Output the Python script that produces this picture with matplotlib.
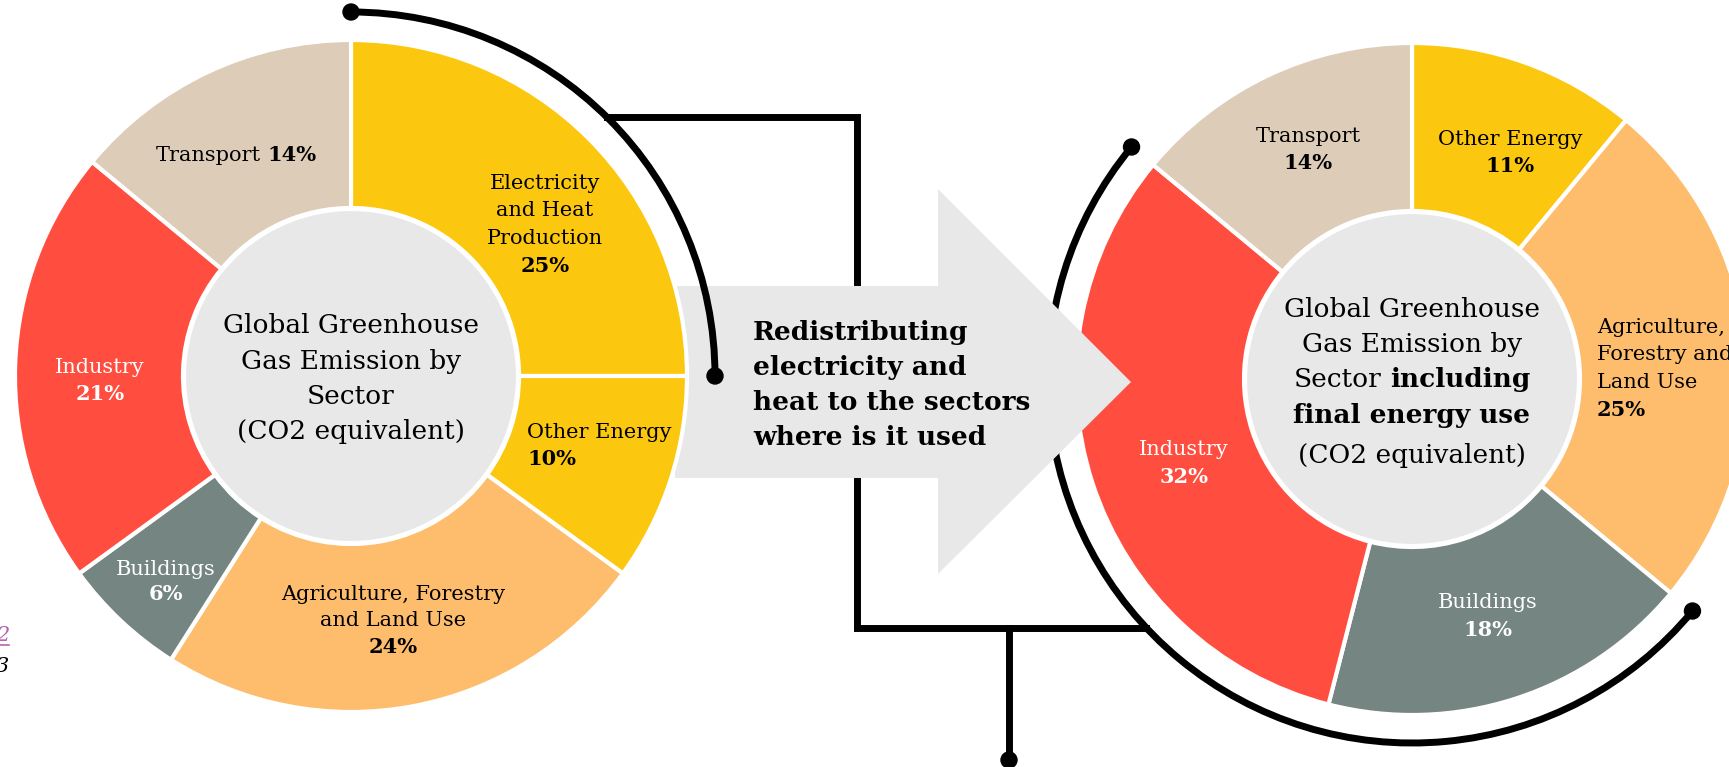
import numpy as np
import matplotlib
matplotlib.use("Agg")
import matplotlib.pyplot as plt
from matplotlib.patches import Arc, Circle, Polygon

W, H = 1729, 767

# shares in %, listed clockwise starting at 12 o'clock
left_sectors = ["Electricity and Heat Production", "Other Energy",
                "Agriculture, Forestry and Land Use", "Buildings",
                "Industry", "Transport"]
left_shares = [25, 10, 24, 6, 21, 14]

right_sectors = ["Other Energy", "Agriculture, Forestry and Land Use",
                 "Buildings", "Industry", "Transport"]
right_shares = [11, 25, 18, 32, 14]

# sectors wrapped by the black arcs
left_highlight = ["Electricity and Heat Production"]
right_highlight = ["Buildings", "Industry"]

left_title = [[("Global Greenhouse", "normal")],
              [("Gas Emission by", "normal")],
              [("Sector", "normal")],
              [("(CO2 equivalent)", "normal")]]
right_title = [[("Global Greenhouse", "normal")],
               [("Gas Emission by", "normal")],
               [("Sector", "normal"), ("including", "bold")],
               [("final energy use", "bold")],
               [("(CO2 equivalent)", "normal")]]
arrow_text = ["Redistributing", "electricity and",
              "heat to the sectors", "where is it used"]

colors = {
    "Electricity and Heat Production": "#FCC80F",
    "Other Energy": "#FCC80F",
    "Agriculture, Forestry and Land Use": "#FDBD6C",
    "Buildings": "#758581",
    "Industry": "#FF4D40",
    "Transport": "#DDCCB7",
}
white_text = {"Buildings", "Industry"}

plt.rcParams["font.family"] = "DejaVu Serif"

fig = plt.figure(figsize=(W / 100, H / 100), dpi=100)
ax = fig.add_axes([0, 0, 1, 1])
renderer = fig.canvas.get_renderer()


def Y(y):
    # work in pixel rows counted from the top
    return H - y


R_OUT, R_IN, R_ARC = 336, 168, 364
LW = 5
left_c = (351, 376)
right_c = (1412, 379)


def boundaries(shares):
    return 90 - 3.6 * np.concatenate([[0], np.cumsum(shares)])


def donut(c, sectors, shares, z):
    ax.pie(shares, colors=[colors[s] for s in sectors], startangle=90,
           counterclock=False, radius=R_OUT, center=(c[0], Y(c[1])),
           wedgeprops=dict(width=R_OUT - R_IN, edgecolor="white",
                           linewidth=3, zorder=z))
    ax.add_patch(Circle((c[0], Y(c[1])), R_IN - 1, facecolor="#E8E8E8",
                        edgecolor="white", lw=3, zorder=z + 0.1))


def wrap_arc(c, sectors, shares, picked, z):
    b = boundaries(shares)
    idx = [i for i, s in enumerate(sectors) if s in picked]
    t2 = b[min(idx)] % 360
    t1 = b[max(idx) + 1] % 360
    cx, cy = c[0], Y(c[1])
    ax.add_patch(Arc((cx, cy), 2 * R_ARC, 2 * R_ARC, theta1=t1, theta2=t2,
                     lw=LW, color="black", zorder=z))
    for t in (t1, t2):
        a = np.radians(t)
        ax.add_patch(Circle((cx + R_ARC * np.cos(a), cy + R_ARC * np.sin(a)),
                            8, color="black", zorder=z))


def text_line(x, y, parts, ha="center", size=15, color="black"):
    texts = [ax.text(0, Y(y), s, fontweight=w, ha="left", va="baseline",
                     fontsize=size, color=color, zorder=10)
             for s, w in parts]
    widths = [t.get_window_extent(renderer).width for t in texts]
    gap = 0.3 * size * 100 / 72
    total = sum(widths) + gap * (len(texts) - 1)
    pos = x - total / 2 if ha == "center" else x
    for t, w in zip(texts, widths):
        t.set_x(pos)
        pos += w + gap


# connector bracket between the two charts
y_top, y_bot, x_mid = 117, 628, 857
x0 = left_c[0] + np.sqrt(R_ARC ** 2 - (left_c[1] - y_top) ** 2)
x1 = right_c[0] - np.sqrt(R_ARC ** 2 - (y_bot - right_c[1]) ** 2)
ax.plot([x0, x_mid, x_mid, x1], [Y(y_top), Y(y_top), Y(y_bot), Y(y_bot)],
        color="black", lw=LW, solid_joinstyle="miter", zorder=2)
ax.plot([1009, 1009], [Y(y_bot), Y(760)], color="black", lw=LW, zorder=2)
ax.add_patch(Circle((1009, Y(760)), 8, color="black", zorder=2))

# right chart sits under the arrow
donut(right_c, right_sectors, right_shares, 2)
wrap_arc(right_c, right_sectors, right_shares, right_highlight, 2)

arrow = [(675, 286), (938, 286), (938, 189), (1131, 382),
         (938, 574), (938, 478), (675, 478)]
ax.add_patch(Polygon([(x, Y(y)) for x, y in arrow], closed=True,
                     facecolor="#E8E8E8", edgecolor="none", zorder=4))

donut(left_c, left_sectors, left_shares, 5)
wrap_arc(left_c, left_sectors, left_shares, left_highlight, 6)

for i, line in enumerate(arrow_text):
    text_line(753, 340 + 35 * i, [(line, "bold")], ha="left", size=19)

# sector labels: x, first baseline, line step, alignment, wrapped name
left_labels = {
    "Electricity and Heat Production":
        (545, 189, 27.5, "center", ["Electricity", "and Heat", "Production"]),
    "Other Energy": (527, 438, 27, "left", ["Other Energy"]),
    "Agriculture, Forestry and Land Use":
        (393, 600, 26.5, "center", ["Agriculture, Forestry", "and Land Use"]),
    "Buildings": (166, 575, 25.5, "center", ["Buildings"]),
    "Industry": (100, 373, 27, "center", ["Industry"]),
    "Transport": (236, 161, 0, "center", None),
}
right_labels = {
    "Other Energy": (1510, 145, 26.5, "center", ["Other Energy"]),
    "Agriculture, Forestry and Land Use":
        (1597, 333, 27.5, "left", ["Agriculture,", "Forestry and", "Land Use"]),
    "Buildings": (1488, 608, 28, "center", ["Buildings"]),
    "Industry": (1184, 455, 28, "center", ["Industry"]),
    "Transport": (1308, 142, 27, "center", ["Transport"]),
}


def sector_labels(sectors, shares, layout):
    for s, v in zip(sectors, shares):
        x, y, step, ha, lines = layout[s]
        col = "white" if s in white_text else "black"
        pct = f"{v}%"
        if lines is None:
            text_line(x, y, [(s, "normal"), (pct, "bold")], ha, color=col)
            continue
        for i, ln in enumerate(lines):
            text_line(x, y + step * i, [(ln, "normal")], ha, color=col)
        text_line(x, y + step * len(lines), [(pct, "bold")], ha, color=col)


sector_labels(left_sectors, left_shares, left_labels)
sector_labels(right_sectors, right_shares, right_labels)

for i, parts in enumerate(left_title):
    text_line(left_c[0], 333 + 35.5 * i, parts, size=19)
for i, (parts, yb) in enumerate(zip(right_title, [317, 352, 387, 423, 463])):
    text_line(right_c[0], yb, parts, size=19)

# cut-off footnote digits at the left edge
ax.text(9, Y(641), "2", color="#B565B0", style="italic", ha="right",
        va="baseline", fontsize=15)
ax.plot([0, 9], [Y(645), Y(645)], color="#B565B0", lw=1.2)
ax.text(9, Y(672), "3", color="black", style="italic", ha="right",
        va="baseline", fontsize=15)

ax.set_xlim(0, W)
ax.set_ylim(0, H)
ax.set_aspect("auto")
ax.axis("off")
fig.savefig("out.png", dpi=100)
